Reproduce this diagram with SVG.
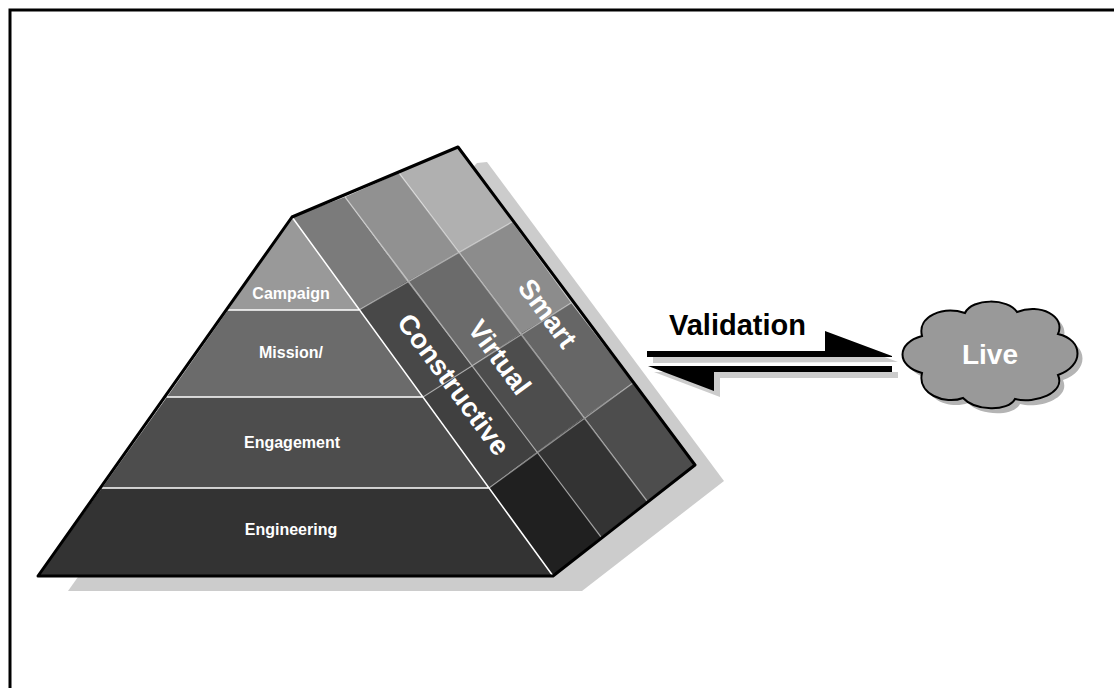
<svg xmlns="http://www.w3.org/2000/svg" width="1114" height="688" viewBox="0 0 1114 688">
<style>
text{font-family:"Liberation Sans",Arial,sans-serif;font-weight:700}
.w{fill:#fff}
.s{font-size:16px;text-anchor:middle;fill:#fff}
.b{font-size:27.5px;text-anchor:middle;fill:#fff}
.g{stroke:#fff;stroke-opacity:.45;stroke-width:1.3;fill:none}
.f{stroke:#fff;stroke-width:1.5;fill:none}
.sh{fill:#ccc}
</style>
<rect width="1114" height="688" fill="#fff"/>
<path d="M10,688V10H1114" fill="none" stroke="#000" stroke-width="3"/>
<g id="pyramid-shadow"><polygon class="sh" points="477,163 487,162 724,481 582,591 68,591 90,560"/></g>
<g id="side-grid">
<polygon fill="#7b7b7b" points="292,217 345,197 407,281 359,310"/>
<polygon fill="#919191" points="345,197 399,173 459,252 407,281"/>
<polygon fill="#b0b0b0" points="399,173 458,147 512,222 459,252"/>
<polygon fill="#484848" points="359,310 407,281 472,366 423,397"/>
<polygon fill="#6b6b6b" points="407,281 459,252 521,333 472,366"/>
<polygon fill="#8c8c8c" points="459,252 512,222 571,303 521,333"/>
<polygon fill="#404040" points="423,397 472,366 537,452 489,488"/>
<polygon fill="#4d4d4d" points="472,366 521,333 584,417 537,452"/>
<polygon fill="#666" points="521,333 571,303 633,383 584,417"/>
<polygon fill="#202020" points="489,488 537,452 601,537 553,576"/>
<polygon fill="#333" points="537,452 584,417 647,501 601,537"/>
<polygon fill="#4d4d4d" points="584,417 633,383 695,465 647,501"/>
<path class="g" d="M345,197L601,537M399,173L647,501M359,310L512,222M423,397L571,303M489,488L633,383"/>
</g>
<g id="level-campaign"><polygon fill="#999" points="292,217 359,310 228,310"/><text class="s" x="291" y="299">Campaign</text></g>
<g id="level-mission"><polygon fill="#6b6b6b" points="228,310 359,310 423,397 167,397"/><text class="s" x="291" y="358">Mission/</text></g>
<g id="level-engagement"><polygon fill="#4d4d4d" points="167,397 423,397 489,488 102,488"/><text class="s" x="292" y="448">Engagement</text></g>
<g id="level-engineering"><polygon fill="#333" points="102,488 489,488 553,576 38,576"/><text class="s" x="291" y="535">Engineering</text></g>
<path class="f" d="M292,217L553,576M228,310H359M167,397H423M102,488H489"/>
<path fill="none" stroke="#000" stroke-width="3" stroke-linejoin="round" d="M292,217L458,147L695,465L553,576H38Z"/>
<g id="side-labels">
<text class="b" transform="translate(446,390) rotate(53.5)" x="0" y="0">Constructive</text>
<text class="b" transform="translate(492,363) rotate(53.5)" x="0" y="0">Virtual</text>
<text class="b" transform="translate(540,319) rotate(53.5)" x="0" y="0">Smart</text>
</g>
<g id="connectors">
<polygon class="sh" points="653,357 831,357 831,337 898,362 653,363"/>
<polygon class="sh" points="654,372 898,372 898,378 720,378 720,397"/>
<polygon points="647,351 825,351 825,331 892,356 892,357 647,357"/>
<polygon points="648,366 892,366 892,372 714,372 714,391"/>
</g>
<text x="737.5" y="335" font-size="29" text-anchor="middle">Validation</text>
<g id="live">
<path id="cloud-s" transform="translate(5,5)" fill="#b4b4b4" d="M922,336C917,316 943,306 965,313C972,298 1008,298 1017,312C1040,303 1066,316 1058,334C1084,340 1084,366 1058,375C1066,393 1035,404 1015,399C1008,412 975,411 963,398C945,405 917,394 922,373C896,366 896,343 922,336Z"/>
<path fill="#999" stroke="#000" stroke-width="2" d="M922,336C917,316 943,306 965,313C972,298 1008,298 1017,312C1040,303 1066,316 1058,334C1084,340 1084,366 1058,375C1066,393 1035,404 1015,399C1008,412 975,411 963,398C945,405 917,394 922,373C896,366 896,343 922,336Z"/>
<text x="990" y="364" font-size="28" text-anchor="middle" class="w">Live</text>
</g>
</svg>
